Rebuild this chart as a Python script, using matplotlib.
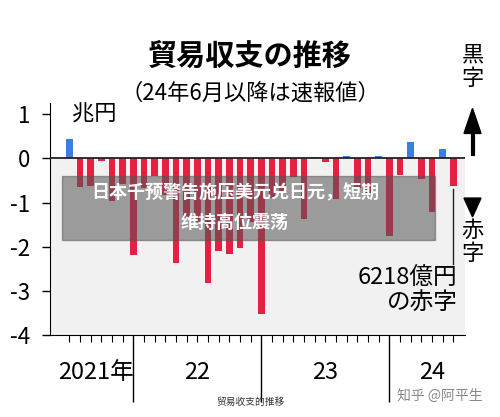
import numpy as np
import matplotlib.pyplot as plt
from matplotlib.patches import Rectangle

plt.rcParams['font.family'] = ['Noto Sans CJK JP', 'DejaVu Sans']

# monthly trade balance, Jul 2021 .. Jul 2024 (trillion yen)
months = list(range(37))
values = [0.44, -0.64, -0.62, -0.07, -0.96, -0.58,
          -2.19, -0.67, -0.41, -0.84, -2.38, -1.38, -1.43, -2.82, -2.09, -2.16, -2.03, -1.45,
          -3.53, -0.90, -0.75, -0.43, -1.37, 0.04, -0.08, -0.93, 0.06, -0.66, -0.78, 0.06,
          -1.76, -0.38, 0.37, -0.46, -1.22, 0.22, -0.62]
year_ticks = [6, 18, 30]
year_labels = ["2021年", "22", "23", "24"]
year_label_pos = [2.5, 12, 24, 34]
yticks = [1, 0, -1, -2, -3, -4]

fig = plt.figure(figsize=(5, 4.17), dpi=100)
ax = fig.add_axes([0.1, 0.1966, 0.83, 0.556])
colors = ["#3d7fe0" if v > 0 else "#e61f43" for v in values]
ax.axhspan(-4, 0, color="#f1f1f1", zorder=0)
ax.bar(months, values, width=0.62, color=colors, zorder=2)
ax.axhline(0, color="#222222", lw=1.3, zorder=3)
ax.set_xlim(-1.8, 37.1)
ax.set_ylim(-4, 1.25)
ax.set_yticks(yticks)
ax.set_yticklabels([str(t) for t in yticks], fontsize=16)
ax.set_xticks(months, minor=True)
ax.set_xticks(year_ticks)
ax.set_xticklabels([])
ax.tick_params(axis='x', which='minor', length=5, width=0.8)
ax.tick_params(axis='x', which='major', length=48, width=1)
ax.tick_params(axis='y', length=6, width=1, pad=8)
for s in ["top", "right"]:
    ax.spines[s].set_visible(False)
for x, lab in zip(year_label_pos, year_labels):
    ax.text(x, -4.85, lab, ha="center", va="center", fontsize=17)
ax.text(0.3, 1.0, "兆円", fontsize=16, va="center")
ax.axvline(36, ymin=0.305, ymax=0.63, color="#222222", lw=1)
ax.text(36.4, -3.0, "6218億円\nの赤字", ha="right", va="center", fontsize=17,
        linespacing=1.1, bbox=dict(fc="#f1f1f1", ec="none", pad=1))

fig.text(0.5, 0.845, "貿易収支の推移", ha="center", fontsize=21, fontweight="bold")
fig.text(0.5, 0.76, "（24年6月以降は速報値）", ha="center", fontsize=16)
fig.text(0.945, 0.84, "黒\n字", ha="center", va="center", fontsize=16, linespacing=1.0)
fig.text(0.945, 0.42, "赤\n字", ha="center", va="center", fontsize=16, linespacing=1.0)
fig.patches.append(plt.Polygon([[0.928, 0.68], [0.962, 0.68], [0.945, 0.74]], closed=True,
                               transform=fig.transFigure, color="black"))
fig.add_artist(plt.Line2D([0.945, 0.945], [0.63, 0.68], color="black", lw=3))
fig.patches.append(plt.Polygon([[0.928, 0.525], [0.962, 0.525], [0.945, 0.48]], closed=True,
                               transform=fig.transFigure, color="black"))

# overlay banner
fig.add_artist(Rectangle((0.124, 0.425), 0.746, 0.152, transform=fig.transFigure,
                         color="#555555", alpha=0.55, zorder=5))
fig.text(0.47, 0.538, "日本千预警告施压美元兑日元，短期", ha="center", va="center",
         fontsize=13, fontweight="bold", color="white", zorder=6)
fig.text(0.47, 0.468, "维持高位震荡", ha="center", va="center",
         fontsize=13, fontweight="bold", color="white", zorder=6)
fig.text(0.5, 0.03, "贸易收支的推移", ha="center", fontsize=7, color="#333333")
fig.text(0.88, 0.04, "知乎 @阿平生", ha="center", fontsize=10, color="#888888")

fig.savefig("out.png")
